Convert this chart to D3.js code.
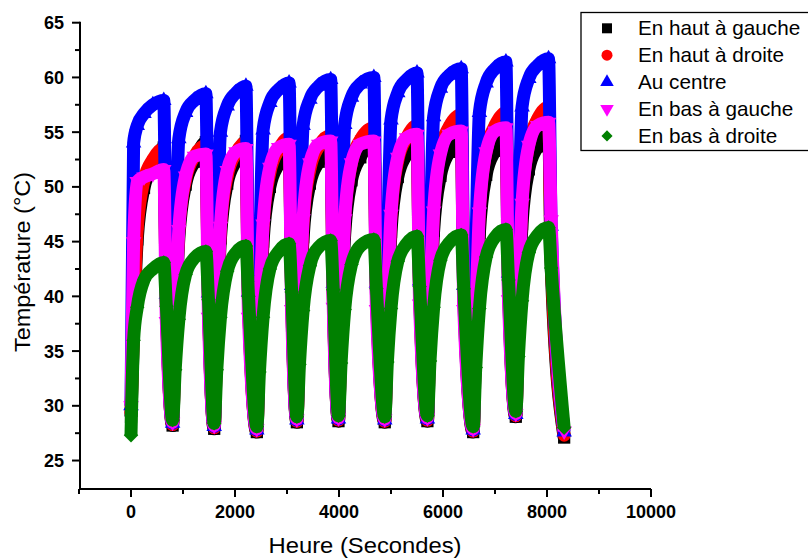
<!DOCTYPE html>
<html>
<head>
<meta charset="utf-8">
<script src="https://cdn.jsdelivr.net/npm/d3@7"></script>
<style>
  html, body { margin: 0; padding: 0; background: #fff; }
  svg { display: block; }
  text { font-family: "Liberation Sans", Arial, sans-serif; }
</style>
</head>
<body>
<svg id="chart" width="808" height="559"></svg>
<script>
// ---- data ----
const times = [
  0, 50, 120, 250, 420, 630, 680,
  800, 850, 920, 1050, 1220, 1440, 1490,
  1600, 1650, 1720, 1850, 2020, 2210, 2260,
  2420, 2470, 2540, 2670, 2840, 3040, 3090,
  3190, 3240, 3310, 3440, 3610, 3840, 3890,
  3990, 4040, 4110, 4240, 4410, 4670, 4720,
  4880, 4930, 5000, 5130, 5300, 5500, 5550,
  5700, 5750, 5820, 5950, 6120, 6350, 6400,
  6580, 6630, 6700, 6830, 7000, 7210, 7260,
  7400, 7450, 7520, 7650, 7820, 8030, 8080,
  8330
];
const hautGauche = [
  29.0, 37.1, 45.2, 49.9, 51.9, 53.6, 39.6,
  28.2, 36.7, 45.3, 50.2, 52.3, 54.1, 39.7,
  27.9, 36.6, 45.3, 50.3, 52.4, 54.2, 39.6,
  27.6, 36.3, 45.0, 50.0, 52.1, 53.9, 39.9,
  28.5, 37.0, 45.4, 50.3, 52.3, 54.1, 40.1,
  28.6, 37.1, 45.7, 50.6, 52.7, 54.5, 40.2,
  28.5, 37.2, 45.9, 50.9, 53.0, 54.8, 40.4,
  28.6, 37.3, 46.0, 51.0, 53.2, 55.0, 39.9,
  27.6, 36.7, 45.8, 51.1, 53.3, 55.2, 40.8,
  29.0, 37.8, 46.6, 51.6, 53.7, 55.6, 42.8,
  27.1
];
const hautDroite = [
  29.3, 37.8, 46.2, 50.6, 52.5, 53.5, 39.6,
  28.3, 37.2, 46.2, 50.7, 52.8, 53.8, 39.6,
  28.0, 37.1, 46.3, 51.0, 53.1, 54.1, 39.6,
  27.7, 37.1, 46.5, 51.3, 53.4, 54.5, 40.3,
  28.6, 37.7, 46.9, 51.6, 53.7, 54.7, 40.4,
  28.7, 38.0, 47.4, 52.2, 54.3, 55.4, 40.7,
  28.6, 38.1, 47.5, 52.4, 54.5, 55.6, 40.8,
  28.7, 38.5, 48.2, 53.3, 55.5, 56.6, 40.7,
  27.7, 37.9, 48.1, 53.3, 55.6, 56.8, 41.6,
  29.1, 39.0, 48.8, 53.9, 56.2, 57.3, 43.8,
  27.3
];
const auCentre = [
  30.0, 54.0, 55.6, 56.7, 57.5, 57.9, 40.2,
  28.4, 41.9, 54.4, 56.8, 57.9, 58.5, 40.3,
  28.1, 42.1, 55.0, 57.4, 58.6, 59.2, 40.4,
  27.8, 42.1, 55.2, 57.7, 58.9, 59.5, 41.0,
  28.7, 42.7, 55.6, 58.0, 59.2, 59.8, 41.2,
  28.8, 42.8, 55.7, 58.2, 59.4, 60.0, 41.2,
  28.7, 43.0, 56.1, 58.6, 59.8, 60.4, 41.4,
  28.8, 43.2, 56.4, 59.0, 60.2, 60.8, 41.0,
  27.8, 42.9, 56.8, 59.5, 60.8, 61.4, 42.1,
  29.2, 43.8, 57.3, 59.9, 61.1, 61.7, 46.4,
  27.6
];
const basGauche = [
  30.0, 45.0, 50.5, 50.9, 51.2, 51.6, 37.7,
  28.5, 37.1, 46.1, 51.0, 52.8, 53.0, 38.1,
  28.2, 37.1, 46.4, 51.5, 53.2, 53.5, 38.1,
  27.9, 37.0, 46.6, 51.8, 53.6, 53.9, 38.8,
  28.8, 37.7, 47.1, 52.2, 53.9, 54.2, 39.0,
  28.9, 37.8, 47.1, 52.2, 53.9, 54.2, 38.8,
  28.8, 37.9, 47.5, 52.7, 54.5, 54.8, 39.3,
  28.9, 38.1, 47.8, 53.0, 54.8, 55.1, 38.8,
  27.9, 37.5, 47.7, 53.2, 55.1, 55.4, 39.7,
  29.3, 38.6, 48.5, 53.8, 55.6, 55.9, 47.0,
  27.7
];
const basDroite = [
  27.3, 36.0, 39.0, 41.5, 42.5, 43.1, 39.1,
  28.7, 33.3, 37.9, 42.0, 43.5, 44.1, 39.7,
  28.4, 33.3, 38.1, 42.3, 44.0, 44.6, 40.0,
  28.1, 33.1, 38.1, 42.5, 44.1, 44.8, 40.4,
  29.0, 33.8, 38.7, 42.8, 44.5, 45.1, 40.6,
  29.1, 33.9, 38.8, 42.9, 44.6, 45.2, 40.7,
  29.0, 34.0, 38.9, 43.2, 44.8, 45.5, 40.9,
  29.1, 34.1, 39.0, 43.3, 44.9, 45.6, 40.7,
  28.1, 33.5, 38.9, 43.6, 45.4, 46.1, 41.5,
  29.5, 34.5, 39.6, 44.0, 45.6, 46.3, 42.6,
  28.0
];
const seriesNames = ["En haut à gauche", "En haut à droite", "Au centre", "En bas à gauche", "En bas à droite"];
const seriesValues = [hautGauche, hautDroite, auCentre, basGauche, basDroite];
const seriesColors = ["#000000", "#ff0000", "#0000ff", "#ff00ff", "#008000"];
const xTickValues = [0, 2000, 4000, 6000, 8000, 10000];
const xMinorTicks = [-1000, 1000, 3000, 5000, 7000, 9000];
const yTickValues = [25, 30, 35, 40, 45, 50, 55, 60, 65];
const yMinorTicks = [27.5, 32.5, 37.5, 42.5, 47.5, 52.5, 57.5, 62.5];
const xTitle = "Heure (Secondes)";
const yTitle = "Température (°C)";

// ---- drawing ----
const svg = d3.select("#chart");
svg.append("rect").attr("width", 808).attr("height", 559).attr("fill", "#fff");

const x = d3.scaleLinear().domain([-1000, 10000]).range([79, 651]);
const y = d3.scaleLinear().domain([22.4, 65]).range([489, 22.7]);

const shapes = [
  {type: d3.symbolSquare, rot: 0, band: 150, leg: 100},
  {type: d3.symbolCircle, rot: 0, band: 125, leg: 95},
  {type: d3.symbolTriangle, rot: 0, band: 105, leg: 80},
  {type: d3.symbolTriangle, rot: 180, band: 105, leg: 80},
  {type: d3.symbolSquare, rot: 45, band: 105, leg: 62}
];

const plot = svg.append("g");
const line = d3.line()
  .x((d, i) => x(times[i]))
  .y(d => y(d))
  .curve(d3.curveMonotoneX);

seriesValues.forEach((vals, si) => {
  const g = plot.append("g");
  g.append("path")
    .attr("d", line(vals))
    .attr("fill", "none")
    .attr("stroke", seriesColors[si])
    .attr("stroke-width", 13)
    .attr("stroke-linejoin", "round");
  const sym = d3.symbol().type(shapes[si].type).size(shapes[si].band);
  g.selectAll("path.m").data(vals).join("path")
    .attr("class", "m")
    .attr("d", sym())
    .attr("fill", seriesColors[si])
    .attr("transform", (d, i) => `translate(${x(times[i])},${y(d)}) rotate(${shapes[si].rot})`);
});

// axes
const axisColor = "#000";
const xAxis = svg.append("g").attr("transform", "translate(0,489)");
xAxis.append("line").attr("x1", 79).attr("x2", 651).attr("y1", 0).attr("y2", 0)
  .attr("stroke", axisColor).attr("stroke-width", 2);
xAxis.selectAll("line.maj").data(xTickValues).join("line").attr("class", "maj")
  .attr("x1", d => x(d)).attr("x2", d => x(d)).attr("y1", 0).attr("y2", 8)
  .attr("stroke", axisColor).attr("stroke-width", 2);
xAxis.selectAll("line.min").data(xMinorTicks).join("line").attr("class", "min")
  .attr("x1", d => x(d)).attr("x2", d => x(d)).attr("y1", 0).attr("y2", 5)
  .attr("stroke", axisColor).attr("stroke-width", 2);
xAxis.selectAll("text").data(xTickValues).join("text")
  .attr("x", d => x(d)).attr("y", 29)
  .attr("text-anchor", "middle")
  .attr("font-size", 18).attr("font-weight", "bold")
  .text(d => d);

const yAxis = svg.append("g");
yAxis.append("line").attr("x1", 80).attr("x2", 80).attr("y1", y(65) - 1).attr("y2", 490)
  .attr("stroke", axisColor).attr("stroke-width", 2);
yAxis.selectAll("line.maj").data(yTickValues).join("line").attr("class", "maj")
  .attr("x1", 72).attr("x2", 80).attr("y1", d => y(d)).attr("y2", d => y(d))
  .attr("stroke", axisColor).attr("stroke-width", 2);
yAxis.selectAll("line.min").data(yMinorTicks).join("line").attr("class", "min")
  .attr("x1", 75).attr("x2", 80).attr("y1", d => y(d)).attr("y2", d => y(d))
  .attr("stroke", axisColor).attr("stroke-width", 2);
yAxis.selectAll("text").data(yTickValues).join("text")
  .attr("x", 64).attr("y", d => y(d) + 6.5)
  .attr("text-anchor", "end")
  .attr("font-size", 18).attr("font-weight", "bold")
  .text(d => d);

// titles
svg.append("text")
  .attr("x", 365).attr("y", 553)
  .attr("text-anchor", "middle")
  .attr("font-size", 22)
  .attr("textLength", 193).attr("lengthAdjust", "spacingAndGlyphs")
  .text(xTitle);
svg.append("text")
  .attr("transform", "translate(30,262) rotate(-90)")
  .attr("text-anchor", "middle")
  .attr("font-size", 22)
  .attr("textLength", 180).attr("lengthAdjust", "spacingAndGlyphs")
  .text(yTitle);

// legend
const leg = svg.append("g");
leg.append("rect").attr("x", 581).attr("y", 12.5).attr("width", 240).attr("height", 138)
  .attr("fill", "#fff").attr("stroke", "#000").attr("stroke-width", 1.3);
seriesNames.forEach((name, i) => {
  const cy = 28.3 + i * 26.9;
  leg.append("path")
    .attr("d", d3.symbol().type(shapes[i].type).size(shapes[i].leg)())
    .attr("fill", seriesColors[i])
    .attr("transform", `translate(607,${cy}) rotate(${shapes[i].rot})`);
  leg.append("text")
    .attr("x", 638).attr("y", cy + 7)
    .attr("font-size", 20.7)
    .text(name);
});
</script>
</body>
</html>
